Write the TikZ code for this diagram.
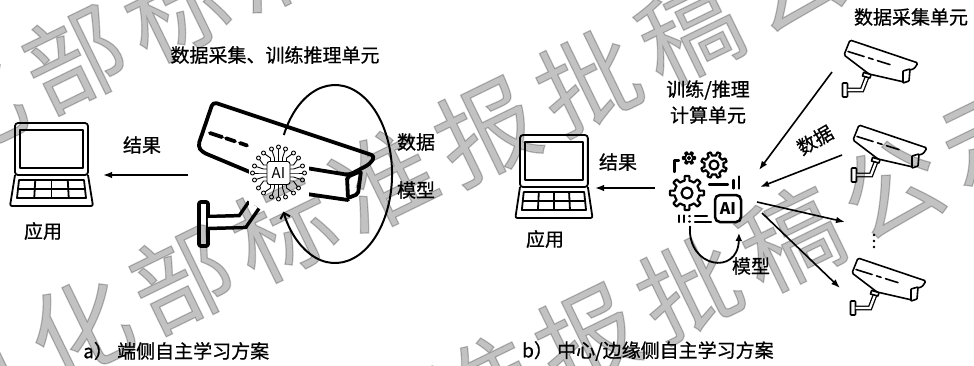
\documentclass[tikz,border=0pt]{standalone}
\usepackage{fontspec}
\setmainfont{Noto Sans CJK SC}
\newfontfamily\lblfont[FakeBold=0.7]{Noto Sans CJK SC}
\newfontfamily\wmfont[FakeBold=1.2]{Noto Sans CJK SC}
\usetikzlibrary{arrows.meta}
\definecolor{tipblue}{RGB}{92,132,182}
\tikzset{
  txt/.style={font=\lblfont\fontsize{19}{21}\selectfont, inner sep=0pt},
  wm/.style={font=\wmfont\fontsize{100}{100}\selectfont, inner sep=0pt, rotate=26, opacity=0.24},
  bigline/.style={line width=3.8pt, line cap=round, line join=round},
  camline/.style={line width=1.6pt, line cap=round, line join=round},
  lapline/.style={line width=1.8pt, line join=round},
  iconline/.style={line width=2.2pt, line cap=round, line join=round},
  chipline/.style={line width=0.9pt, line join=round},
  arr/.style={line width=1.6pt, -{Latex[length=9pt,width=6.5pt]}},
  laptop/.pic={
    \draw[lapline, rounded corners=3] (0,0) rectangle (73,52);
    \draw[lapline] (5,7) rectangle (68,45);
    \draw[lapline, rounded corners=2] (0,52) -- (-5,83) -- (78,83) -- (73,52);
    \draw[lapline] (4,57) -- (69,57) -- (71,75) -- (2,75) -- cycle;
    \draw[lapline] (3,66) -- (70,66);
    \foreach \k in {1,2,3}{\draw[lapline] ({4+\k*65/4},57) -- ({2+\k*69/4},75);}
  },
  smallcam/.pic={
    % wall plate and arm
    \draw[camline, fill=white, rounded corners=0.8] (4.5,48) rectangle (9.5,62);
    \draw[line width=1.3pt, double, double distance=2.2pt] (9.5,55) -- (24,55) -- (29,42);
    \draw[camline, fill=white] (25.5,37.5) -- (33,39.5) -- (32,43) -- (24.5,41) -- cycle;
    % housing
    \draw[camline, fill=white, rounded corners=1.5] (66,47) -- (31,39) -- (6,20) -- (12,5) -- (80,28) -- (76,34) -- (66,36);
    % lens cap
    \draw[camline, fill=white, rounded corners=0.6] (65,36) -- (72,34) -- (71,46) -- (65,48) -- cycle;
    % stripe
    \draw[camline] (10,16.5) -- (26,21.5) (30.5,22.9) -- (35,24.3) (39.5,25.7) -- (52,29.6);
  },
  chipside/.pic={
    \foreach \s/\cx/\cy in {-8/-15/-20, -4/-7/-24, 0/0/-26, 4/7/-24, 8/15/-20}{
      \draw[chipline] (\s,-11.5) -- (\s,-15) -- (\cx,\cy);
      \draw[chipline, fill=white] (\cx,\cy) circle[radius=2];
    }
  }
}
\begin{document}
\begin{tikzpicture}[x=1pt,y=-1pt]
\useasboundingbox[fill=white] (0,0) rectangle (974,365);

%% ---------------- a) on-device learning ----------------
\node[txt] (titleA) at (275,55) {数据采集、训练推理单元};

% laptop (application)
\pic (lapA) at (15,123) {laptop};
\node[txt] (appA) at (43,231) {应用};

% result arrow
\coordinate (resAfrom) at (188,175);
\coordinate (resAto) at (103,175);
\draw[arr] (resAfrom) -- (resAto);
\node[txt] (resA) at (142,145) {结果};

% large camera: wall plate and arm
\draw[bigline, fill=white, rounded corners=2] (199,202) rectangle (208,246);
\draw[line width=3.5pt, double, double distance=8.5pt] (208,222.5) -- (242.5,221.5) -- (254,205);
% housing with sun shield
\draw[bigline, rounded corners=4] (348,200) -- (300,193) -- (202,152) -- (198,146) -- (213,102) -- (375,156) -- (370,164) -- (349,175) -- (300,167);
% lens cap
\draw[bigline, fill=white, rounded corners=2] (347,177) -- (361,171) -- (358,194) -- (348,198) -- cycle;
% dashed stripe
\draw[bigline] (210,133) -- (222,137) (226,138.3) -- (235,141.3) (240,143) -- (247,145.5);

% data / model loop
\coordinate (ringc) at (335,174);
\draw[line width=2pt, -{Straight Barb[length=5pt,width=10pt]}] (283.8,135) arc[start angle=206, end angle=515, x radius=57, y radius=89];
\node[txt] (dataA) at (416,142) {数据};
\node[txt] (modelA) at (416,190) {模型};

% AI chip
\fill[white] (249,141) rectangle (309,205);
\foreach \r in {0,90,180,270}{\pic[rotate=\r] at (278.5,173) {chipside};}
\draw[chipline, fill=white, rounded corners=2.5] (267,161.5) rectangle (290,184.5);
\node[inner sep=0pt, font=\fontsize{15}{15}\selectfont] (chipA) at (278.5,173) {AI};

\node[txt, anchor=west] (capA) at (83,351) {a） 端侧自主学习方案};

%% ---------------- b) central / edge learning ----------------
\pic[xscale=0.93] (lapB) at (520,135) {laptop};
\node[txt] (appB) at (545,239) {应用};
\coordinate (resBfrom) at (655,188);
\coordinate (resBto) at (595,188);
\draw[arr] (resBfrom) -- (resBto);
\node[txt] (resB) at (618,162) {结果};

\node[txt] (unitB1) at (708,90) {训练/推理};
\node[txt] (unitB2) at (708,115) {计算单元};

% compute unit: gears and AI box
\draw[iconline, fill=white, shift={(687,193)}] plot[variable=\t, domain=0:360, samples=289] ({\t}:{12.5+4.5*min(1,max(0,3*cos(8*\t)-0.3))}) -- cycle;
\draw[iconline] (687,193) circle[radius=5.5];
\draw[iconline, fill=white, shift={(714,165)}] plot[variable=\t, domain=0:360, samples=289] ({\t}:{9.5+3.5*min(1,max(0,3*cos(8*(\t+22.5))-0.3))}) -- cycle;
\draw[iconline] (714,165) circle[radius=4.5];
\draw[line width=1.8pt, line join=round, fill=white, shift={(689,158)}] plot[variable=\t, domain=0:360, samples=241] ({\t}:{3.8+2.4*min(1,max(0,3*cos(6*\t)-0.3))}) -- cycle;
\draw[line width=1.5pt] (689,158) circle[radius=1.4];
\draw[iconline] (674.5,172) -- (674.5,160.5) -- (679,160.5);
\draw[iconline] (709,184.5) -- (728,184.5);
\draw[iconline] (733.5,180) -- (733.5,188.5) (739,176.5) -- (739,188.5);
\draw[iconline] (679,215.5) -- (679,222) (684,215.5) -- (684,222) (689.5,216) -- (689.5,216.3) (689.5,221.5) -- (689.5,221.8) (695,216) -- (707,216) (695,222) -- (711,222);
\draw[line width=2.5pt, rounded corners=5, fill=white] (715,195) rectangle (741,222);
\node[inner sep=0pt, font=\bfseries\fontsize{16}{16}\selectfont] (aiB) at (728,208.5) {AI};

% model loop
\coordinate (loopBfrom) at (690,226);
\coordinate (loopBto) at (739,233);
\draw[line width=1.8pt, -{Latex[length=8pt,width=7pt,fill=tipblue]}] (loopBfrom) .. controls (687,268) and (738,276) .. (loopBto);
\node[txt] (modelB) at (751,266) {模型};

% collection cameras
\node[txt] (camTitle) at (911,17) {数据采集单元};
\pic (camB1) at (838,35) {smallcam};
\pic (camB2) at (847,120) {smallcam};
\pic (camB3) at (846,253) {smallcam};
\foreach \yy in {235,241,247}{\fill (874,\yy) circle[radius=1.3];}

% data flows
\coordinate (c1out) at (832,72);
\coordinate (c1in) at (759,170);
\coordinate (c2out) at (842,155);
\coordinate (c2in) at (760,187);
\coordinate (m1out) at (757,202);
\coordinate (m1in) at (845,222);
\coordinate (m2out) at (762,213);
\coordinate (m2in) at (840,288);
\draw[arr] (c1out) -- (c1in);
\draw[arr] (c2out) -- (c2in);
\draw[arr] (m1out) -- (m1in);
\draw[arr] (m2out) -- (m2in);
\node[txt, rotate=30] (dataB) at (815,140) {数据};

\node[txt, anchor=west] (capB) at (522,351) {b） 中心/边缘侧自主学习方案};

%% ---------------- watermark ----------------
\foreach \nv in {85,330,560}{
  \foreach \ch [count=\i from 0] in {工,业,和,信,息,化,部,标,准,报,批,稿,公,示}{
    \pgfmathsetmacro\al{-72+(\i-5)*113}
    \node[wm] (wm-\nv-\i) at ({0.899*\al+0.438*\nv},{-0.438*\al+0.899*\nv}) {\ch};
  }
}
\end{tikzpicture}
\end{document}
